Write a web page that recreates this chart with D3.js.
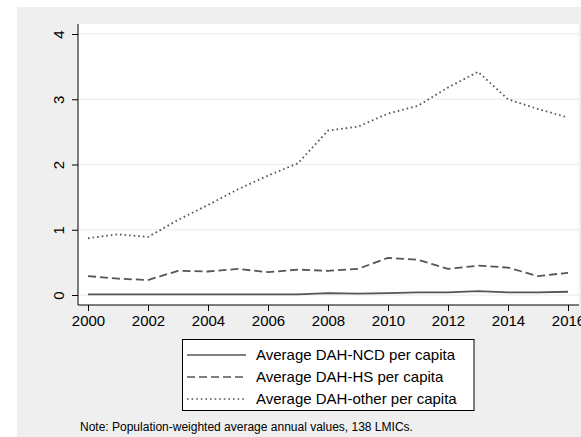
<!DOCTYPE html>
<html lang="en">
<head>
<meta charset="UTF-8">
<script src="https://d3js.org/d3.v7.min.js"></script>
<style>
  body { margin: 0; background: #fff; }
  text { font-family: "Liberation Sans", Arial, sans-serif; }
</style>
</head>
<body>
<script>
var years = [2000,2001,2002,2003,2004,2005,2006,2007,2008,2009,2010,2011,2012,2013,2014,2015,2016];
var ncd   = [0.01,0.01,0.01,0.01,0.01,0.01,0.01,0.01,0.03,0.02,0.03,0.04,0.04,0.06,0.04,0.04,0.05];
var hs    = [0.29,0.25,0.23,0.37,0.36,0.40,0.35,0.39,0.37,0.40,0.57,0.54,0.40,0.45,0.42,0.29,0.34];
var other = [0.87,0.93,0.89,1.15,1.38,1.62,1.83,2.02,2.52,2.58,2.78,2.90,3.18,3.42,3.00,2.85,2.72];
var xTicks = [2000,2002,2004,2006,2008,2010,2012,2014,2016];
var yTicks = [0,1,2,3,4];
var seriesNames = ["Average DAH-NCD per capita", "Average DAH-HS per capita", "Average DAH-other per capita"];

var W = 581, H = 437;
var svg = d3.select("body").append("svg").attr("width", W).attr("height", H);

// outer gray region
svg.append("rect").attr("x", 17).attr("y", 7).attr("width", W - 17).attr("height", H - 7).attr("fill", "#efefef");

var plot = { left: 78, top: 24, right: 579, bottom: 305 };
svg.append("rect").attr("x", plot.left).attr("y", plot.top)
  .attr("width", plot.right - plot.left).attr("height", plot.bottom - plot.top).attr("fill", "#fff");

var x = d3.scaleLinear().domain([2000, 2016]).range([88, 568]);
var y = d3.scaleLinear().domain([0, 4]).range([295, 34]);

// gridlines
svg.append("g").selectAll("line").data(yTicks).enter().append("line")
  .attr("x1", plot.left).attr("x2", plot.right)
  .attr("y1", function (d) { return y(d); }).attr("y2", function (d) { return y(d); })
  .attr("stroke", "#eaeaea").attr("stroke-width", 1.2);

// y axis
var yAxis = svg.append("g").attr("transform", "translate(" + plot.left + ",0)")
  .call(d3.axisLeft(y).tickValues(yTicks).tickSize(6).tickPadding(8).tickFormat(d3.format("d")));
yAxis.select(".domain").attr("d", "M0," + plot.top + "V" + plot.bottom).attr("stroke", "#000");
yAxis.selectAll(".tick line").attr("stroke", "#000");
yAxis.selectAll(".tick text")
  .attr("font-size", 15).attr("fill", "#000")
  .attr("text-anchor", "middle").attr("x", 0)
  .attr("transform", "translate(-19,0) rotate(-90)").attr("dy", "0.35em");

// x axis
var xAxis = svg.append("g").attr("transform", "translate(0," + plot.bottom + ")")
  .call(d3.axisBottom(x).tickValues(xTicks).tickSize(6).tickPadding(4).tickFormat(d3.format("d")));
xAxis.select(".domain").attr("d", "M" + plot.left + ",0H" + plot.right).attr("stroke", "#000");
xAxis.selectAll(".tick line").attr("stroke", "#000");
xAxis.selectAll(".tick text").attr("font-size", 15).attr("fill", "#000");

// lines
var styles = [null, "8,4", "1.6,3"];
var data = [ncd, hs, other];
var line = d3.line().x(function (d, i) { return x(years[i]); }).y(function (d) { return y(d); });
data.forEach(function (s, k) {
  svg.append("path").datum(s).attr("d", line)
    .attr("fill", "none").attr("stroke", "#555").attr("stroke-width", 1.8)
    .attr("stroke-dasharray", styles[k]);
});

// legend
var lg = svg.append("g");
lg.append("rect").attr("x", 182.5).attr("y", 339.5).attr("width", 291.5).attr("height", 71)
  .attr("fill", "#fff").attr("stroke", "#000").attr("stroke-width", 1);
seriesNames.forEach(function (name, k) {
  var yy = 355 + k * 22;
  lg.append("line").attr("x1", 187).attr("x2", 246).attr("y1", yy).attr("y2", yy)
    .attr("stroke", "#555").attr("stroke-width", 1.6).attr("stroke-dasharray", styles[k]);
  lg.append("text").attr("x", 256).attr("y", yy).attr("dy", "0.35em")
    .attr("font-size", 15).attr("fill", "#000").text(name);
});

// note
svg.append("text").attr("x", 80).attr("y", 431).attr("font-size", 12).attr("fill", "#000")
  .text("Note: Population-weighted average annual values, 138 LMICs.");
</script>
</body>
</html>
